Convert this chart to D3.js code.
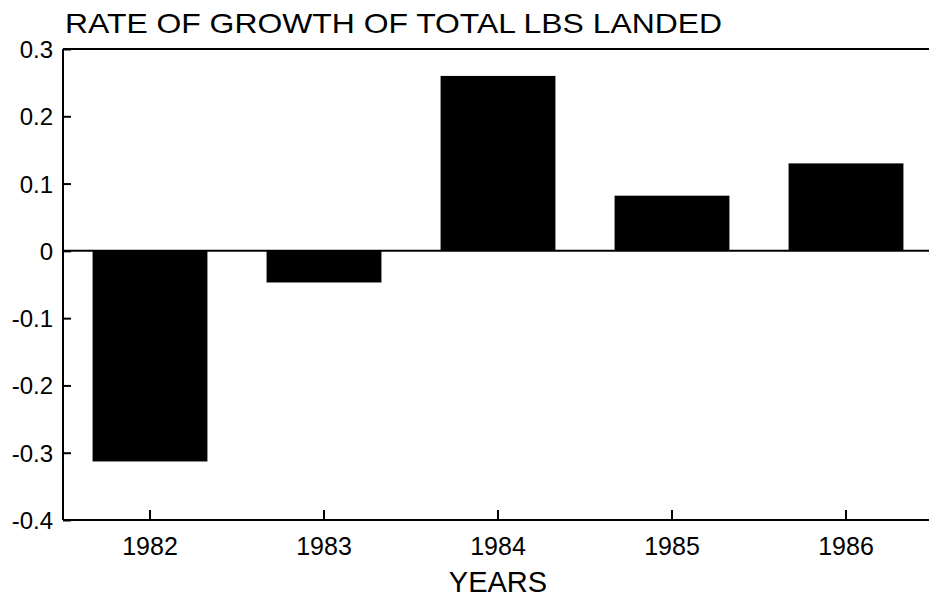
<!DOCTYPE html>
<html><head><meta charset="utf-8">
<script src="https://cdn.jsdelivr.net/npm/d3@7"></script>
<style>body{margin:0;background:#fff}svg{display:block}text{font-family:"Liberation Sans",Arial,sans-serif;fill:#000}</style>
</head><body><svg id="c" width="929" height="598"></svg>
<script>
const years = ["1982","1983","1984","1985","1986"];
const growth = [-0.313, -0.047, 0.26, 0.082, 0.130];
const yTicks = [0.3, 0.2, 0.1, 0, -0.1, -0.2, -0.3, -0.4];
const yTickLabels = ["0.3","0.2","0.1","0","-0.1","-0.2","-0.3","-0.4"];
const title = "RATE OF GROWTH OF TOTAL LBS LANDED";
const xTitle = "YEARS";

const svg = d3.select("#c");
const L = 63, R = 933, T = 49, B = 520;
const x = d3.scaleBand().domain(years).range([L, R]).paddingInner(0.34).paddingOuter(0.17);
const y = d3.scaleLinear().domain([-0.4, 0.3]).range([B, T]);

// bars
svg.append("g").selectAll("rect").data(years).join("rect")
  .attr("x", d => x(d))
  .attr("width", x.bandwidth())
  .attr("y", (d,i) => y(Math.max(0, growth[i])))
  .attr("height", (d,i) => Math.abs(y(growth[i]) - y(0)))
  .attr("fill", "#000");

// frame lines
svg.append("line").attr("x1", L).attr("x2", 929).attr("y1", T).attr("y2", T).attr("stroke","#000").attr("stroke-width",2);
svg.append("line").attr("x1", L).attr("x2", 929).attr("y1", y(0)).attr("y2", y(0)).attr("stroke","#000").attr("stroke-width",2);

// y axis
const yAxis = d3.axisRight(y).tickValues(yTicks).tickSize(8).tickFormat("");
const gy = svg.append("g").attr("transform", `translate(${L},0)`).call(yAxis);
gy.select(".domain").attr("stroke-width", 2).attr("d", `M0,${T}V${B}`);
gy.selectAll(".tick line").attr("stroke-width", 2);
svg.append("g").selectAll("text").data(yTicks).join("text")
  .attr("x", 53).attr("y", d => y(d) + 9)
  .attr("text-anchor","end").attr("font-size", 24)
  .text((d,i) => yTickLabels[i]);

// x axis
const xAxis = d3.axisTop(x).tickSize(10).tickFormat("");
const gx = svg.append("g").attr("transform", `translate(0,${B})`).call(xAxis);
gx.select(".domain").attr("stroke-width", 2).attr("d", `M${L},0H929`);
gx.selectAll(".tick line").attr("stroke-width", 2);
svg.append("g").selectAll("text").data(years).join("text")
  .attr("x", d => x(d) + x.bandwidth()/2).attr("y", 555)
  .attr("text-anchor","middle").attr("font-size", 25)
  .text(d => d);

svg.append("text").attr("x", 498).attr("y", 592).attr("text-anchor","middle").attr("font-size", 29).text(xTitle);
svg.append("text").attr("x", 65).attr("y", 33).attr("font-size", 28)
  .attr("textLength", 657).attr("lengthAdjust", "spacingAndGlyphs").text(title);
</script></body></html>
